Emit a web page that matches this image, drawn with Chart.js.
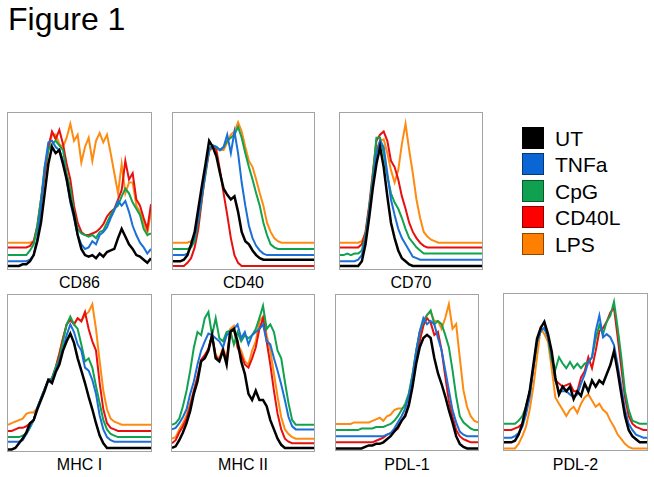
<!DOCTYPE html>
<html lang="en">
<head>
    <meta charset="UTF-8">
    <title>Figure 1</title>
    <script src="https://cdn.jsdelivr.net/npm/chart.js"></script>
    <style>
        body {
            margin: 0;
            width: 654px;
            height: 477px;
            background: #fff;
            font-family: "Liberation Sans", Arial, sans-serif;
            position: relative;
            overflow: hidden;
        }
        .titulo {
            position: absolute;
            left: 8px;
            top: 1px;
            font-size: 32px;
            color: #000;
        }
        .panel {
            position: absolute;
            box-sizing: border-box;
            border: 1px solid #a3a3a3;
        }
        .panel canvas { display: block; }
        .etiqueta {
            position: absolute;
            font-size: 16px;
            line-height: 18px;
            text-align: center;
            color: #000;
        }
        .leyenda {
            position: absolute;
            left: 522px;
            top: 127px;
        }
        .fila {
            position: relative;
            height: 26.4px;
        }
        .cuadro {
            position: absolute;
            left: 0;
            top: 0;
            width: 22px;
            height: 22px;
            box-sizing: border-box;
            border: 1px solid rgba(0, 0, 0, 0.45);
        }
        .texto {
            position: absolute;
            left: 33px;
            top: 1px;
            font-size: 21px;
            line-height: 22px;
            color: #000;
        }
    </style>
</head>
<body>
    <div class="titulo">Figure 1</div>
    <div class="leyenda" id="leyenda"></div>

    <script>
        // tratamientos y colores
        const series = ['UT', 'TNFa', 'CpG', 'CD40L', 'LPS'];
        const legendColors = ['#000000', '#0a66d4', '#10a150', '#ff0000', '#ff8000'];
        const lineColors = ['#000000', '#1a6fd8', '#10a24e', '#e8100f', '#ff8a10'];

        // canales del histograma (40 por panel)
        const bins = Array.from({ length: 40 }, (_, i) => i);

        // CD86
        const cd86UT    = [1,1,1,1,2,2,4,8,17,29, 48,67,78,74,76,67,57,44,34,21, 12,8,7,8,6,9,7,10,11,12, 19,25,20,15,12,8,7,5,3,6];
        const cd86TNFa  = [4,4,4,4,4,4,5,8,19,40, 65,81,82,78,76,69,57,42,32,21, 15,12,13,17,15,21,23,26,32,37, 43,40,43,36,27,21,16,13,9,12];
        const cd86CpG   = [8,8,8,8,8,8,11,15,27,44, 65,76,80,82,79,76,61,51,36,25, 22,21,20,21,19,23,24,29,34,38, 40,46,51,48,42,38,34,25,21,22];
        const cd86CD40L = [13,13,13,13,13,13,14,17,27,44, 61,78,88,83,89,80,67,57,40,29, 23,21,21,22,23,25,28,33,36,38, 44,50,69,57,61,44,40,32,25,41];
        const cd86LPS   = [16,16,16,16,16,16,16,17,23,40, 59,76,86,86,80,78,84,93,82,86, 68,78,84,69,82,87,81,86,74,61, 48,67,48,55,55,40,36,29,22,36];

        // CD40
        const cd40UT    = [4,4,4,5,8,15,23,38,53,67, 82,78,72,61,51,47,44,46,36,23, 17,15,11,8,6,5,5,5,5,5, 5,5,5,5,5,5,5,5,5,5];
        const cd40TNFa  = [8,8,8,8,9,14,20,32,47,62, 76,79,78,76,78,86,74,88,74,55, 40,27,19,14,11,9,8,8,8,8, 8,8,8,8,8,8,8,8,8,8];
        const cd40CpG   = [12,12,12,12,12,13,17,30,46,61, 77,79,78,76,78,82,84,86,91,84, 74,65,57,48,40,29,21,15,13,12, 12,12,12,12,12,12,12,12,12,12];
        const cd40CD40L = [1,1,1,1,3,6,13,25,44,63, 76,78,76,63,48,34,19,8,3,1, 1,1,1,1,1,1,1,1,1,1, 1,1,1,1,1,1,1,1,1,1];
        const cd40LPS   = [16,16,16,16,16,17,19,29,45,60, 75,78,77,76,76,81,86,88,94,88, 78,69,65,57,48,40,29,23,19,17, 16,16,16,16,16,16,16,16,16,16];

        // CD70
        const cd70UT    = [1,1,1,1,1,1,4,15,32,51, 67,78,65,46,29,19,11,6,4,2, 1,1,1,1,1,1,1,1,1,1, 1,1,1,1,1,1,1,1,1,1];
        const cd70TNFa  = [4,4,4,4,4,5,8,19,36,55, 74,82,78,61,44,34,25,19,15,11, 7,6,5,5,5,5,5,5,5,5, 5,5,5,5,5,5,5,5,5,5];
        const cd70CpG   = [8,8,9,8,9,9,11,21,38,59, 84,84,74,59,48,42,38,32,25,19, 16,13,11,9,9,9,9,9,9,9, 9,9,9,9,9,9,9,9,9,9];
        const cd70CD40L = [13,13,13,13,13,13,15,23,40,61, 82,86,88,82,69,65,57,46,38,29, 23,19,16,14,13,13,13,13,13,13, 13,13,13,13,13,13,13,13,13,13];
        const cd70LPS   = [16,16,16,16,16,16,17,22,38,57, 76,82,83,74,63,55,63,80,93,76, 61,44,32,23,20,18,17,16,16,16, 16,16,16,16,16,16,16,16,16,16];

        // MHC I
        const mhc1UT    = [0,0,1,4,7,11,17,19,26,32, 38,45,43,50,55,64,70,75,69,59, 51,43,34,26,17,9,4,1,1,1, 1,1,1,1,1,1,1,1,1,1];
        const mhc1TNFa  = [5,5,5,5,6,10,15,19,27,33, 39,45,45,51,57,65,74,81,76,68, 64,53,51,45,36,22,13,8,6,5, 5,5,5,5,5,5,5,5,5,5];
        const mhc1CpG   = [8,8,8,8,9,10,14,19,27,33, 39,45,46,53,59,70,81,86,81,78, 68,57,59,53,41,30,19,13,10,9, 8,8,8,8,8,8,8,8,8,8];
        const mhc1CD40L = [12,12,13,14,14,15,17,19,27,33, 39,45,46,53,62,72,81,84,81,85, 83,89,78,70,64,43,26,17,14,13, 12,12,12,12,12,12,12,12,12,12];
        const mhc1LPS   = [16,17,18,19,20,23,24,24,27,33, 39,45,46,53,62,72,81,84,81,85, 83,87,89,94,78,57,38,26,20,18, 17,16,16,16,16,16,16,16,16,16];

        // MHC II
        const mhc2UT    = [1,2,6,11,17,25,36,44,57,59, 64,74,59,57,64,55,76,78,70,57, 49,36,32,38,32,32,28,19,13,7, 3,1,1,1,1,1,1,1,1,1];
        const mhc2TNFa  = [13,14,17,21,26,36,44,55,64,70, 75,74,72,70,66,74,76,78,81,72, 76,68,74,76,78,81,70,68,59,51, 42,32,21,15,13,13,13,13,13,13];
        const mhc2CpG   = [16,17,20,28,38,51,66,76,74,85, 89,74,85,72,70,76,77,68,76,70, 74,72,74,78,85,93,78,81,76,64, 59,44,30,19,16,16,16,16,16,16];
        const mhc2CD40L = [4,6,11,15,20,28,38,47,58,61, 65,74,60,58,65,57,77,78,66,61, 55,53,59,66,78,85,70,55,38,23, 13,7,5,4,4,4,4,4,4,4];
        const mhc2LPS   = [7,8,13,17,22,30,38,47,58,61, 65,74,61,59,66,58,78,80,68,64, 57,55,64,70,83,86,74,64,49,34, 21,13,10,8,7,7,7,7,7,7];

        // PDL-1
        const pdl1UT    = [0,0,0,0,0,0,0,0,1,2, 2,3,3,4,6,8,11,14,18,21, 28,40,55,66,72,74,72,59,49,42, 34,25,17,8,3,1,0,0,0,0];
        const pdl1TNFa  = [8,8,8,8,8,8,8,8,8,8, 8,8,8,8,9,10,13,17,21,26, 34,46,63,76,85,81,83,81,72,64, 51,38,25,17,11,9,8,8,8,8];
        const pdl1CpG   = [12,12,12,12,12,12,12,13,13,13, 13,14,14,14,15,16,18,21,25,29, 36,48,63,76,83,87,90,81,83,81, 74,66,51,34,21,17,15,13,12,12];
        const pdl1CD40L = [4,4,4,4,4,4,4,4,4,4, 4,5,6,7,9,10,11,13,18,22, 29,42,57,70,80,85,82,74,76,64, 47,31,21,12,8,6,5,4,4,4];
        const pdl1LPS   = [16,16,16,16,16,17,17,17,17,17, 18,19,20,18,21,22,25,26,26,27, 34,48,63,76,83,87,89,83,83,78, 85,94,78,81,59,38,27,21,18,17];

        // PDL-2
        const pdl2UT    = [4,4,4,5,9,16,27,37,54,71, 78,82,74,63,46,35,40,37,40,32, 37,34,42,37,44,40,44,42,48,54, 63,50,35,21,12,8,6,4,4,4];
        const pdl2TNFa  = [7,7,7,8,10,14,22,33,52,69, 76,78,72,61,44,37,37,37,35,33, 35,42,48,56,59,76,86,72,74,72, 67,54,40,25,16,12,9,8,7,7];
        const pdl2CpG   = [16,16,16,16,18,21,27,37,52,69, 76,78,72,57,51,59,55,52,56,52, 55,52,55,56,59,71,80,74,82,86, 95,78,59,37,25,18,17,16,16,16];
        const pdl2CD40L = [12,12,12,13,14,16,25,35,52,69, 76,78,72,61,44,42,40,41,42,37, 37,46,50,59,52,63,76,78,82,88, 91,72,52,33,21,16,14,13,12,12];
        const pdl2LPS   = [0,0,0,0,3,8,14,25,40,59, 78,74,69,52,33,29,25,21,25,27, 23,29,33,35,31,27,29,25,23,18, 14,9,6,3,1,0,0,0,0,0];

        // posicion de cada panel en la figura
        const panels = [
            { name: 'CD86',   left: 7,   top: 112, w: 145, h: 158, data: [cd86UT, cd86TNFa, cd86CpG, cd86CD40L, cd86LPS] },
            { name: 'CD40',   left: 172, top: 112, w: 143, h: 158, data: [cd40UT, cd40TNFa, cd40CpG, cd40CD40L, cd40LPS] },
            { name: 'CD70',   left: 339, top: 112, w: 144, h: 158, data: [cd70UT, cd70TNFa, cd70CpG, cd70CD40L, cd70LPS] },
            { name: 'MHC I',  left: 7,   top: 294, w: 145, h: 158, data: [mhc1UT, mhc1TNFa, mhc1CpG, mhc1CD40L, mhc1LPS] },
            { name: 'MHC II', left: 171, top: 294, w: 144, h: 158, data: [mhc2UT, mhc2TNFa, mhc2CpG, mhc2CD40L, mhc2LPS] },
            { name: 'PDL-1',  left: 335, top: 294, w: 144, h: 157, data: [pdl1UT, pdl1TNFa, pdl1CpG, pdl1CD40L, pdl1LPS] },
            { name: 'PDL-2',  left: 503, top: 293, w: 145, h: 158, data: [pdl2UT, pdl2TNFa, pdl2CpG, pdl2CD40L, pdl2LPS] }
        ];

        panels.forEach(p => {
            const box = document.createElement('div');
            box.className = 'panel';
            box.style.left = p.left + 'px';
            box.style.top = p.top + 'px';
            box.style.width = p.w + 'px';
            box.style.height = p.h + 'px';
            const canvas = document.createElement('canvas');
            canvas.width = p.w - 2;
            canvas.height = p.h - 2;
            box.appendChild(canvas);
            document.body.appendChild(box);

            const label = document.createElement('div');
            label.className = 'etiqueta';
            label.textContent = p.name;
            label.style.left = p.left + 'px';
            label.style.width = p.w + 'px';
            label.style.top = (p.top < 200 ? 274 : 456) + 'px';
            document.body.appendChild(label);

            new Chart(canvas.getContext('2d'), {
                type: 'line',
                data: {
                    labels: bins,
                    datasets: series.map((s, k) => ({
                        label: s,
                        data: p.data[k],
                        borderColor: lineColors[k],
                        borderWidth: k === 0 ? 2.5 : 2,
                        pointRadius: 0,
                        tension: 0,
                        fill: false
                    }))
                },
                options: {
                    responsive: false,
                    animation: false,
                    events: [],
                    layout: { padding: 0 },
                    plugins: {
                        legend: { display: false },
                        tooltip: { enabled: false }
                    },
                    scales: {
                        x: { display: false },
                        y: { display: false, min: -1, max: 100 }
                    }
                }
            });
        });

        // leyenda
        const leyenda = document.getElementById('leyenda');
        series.forEach((s, k) => {
            const fila = document.createElement('div');
            fila.className = 'fila';
            fila.innerHTML = '<div class="cuadro" style="background:' + legendColors[k] + '"></div>' +
                             '<div class="texto">' + s + '</div>';
            leyenda.appendChild(fila);
        });
    </script>
</body>
</html>
